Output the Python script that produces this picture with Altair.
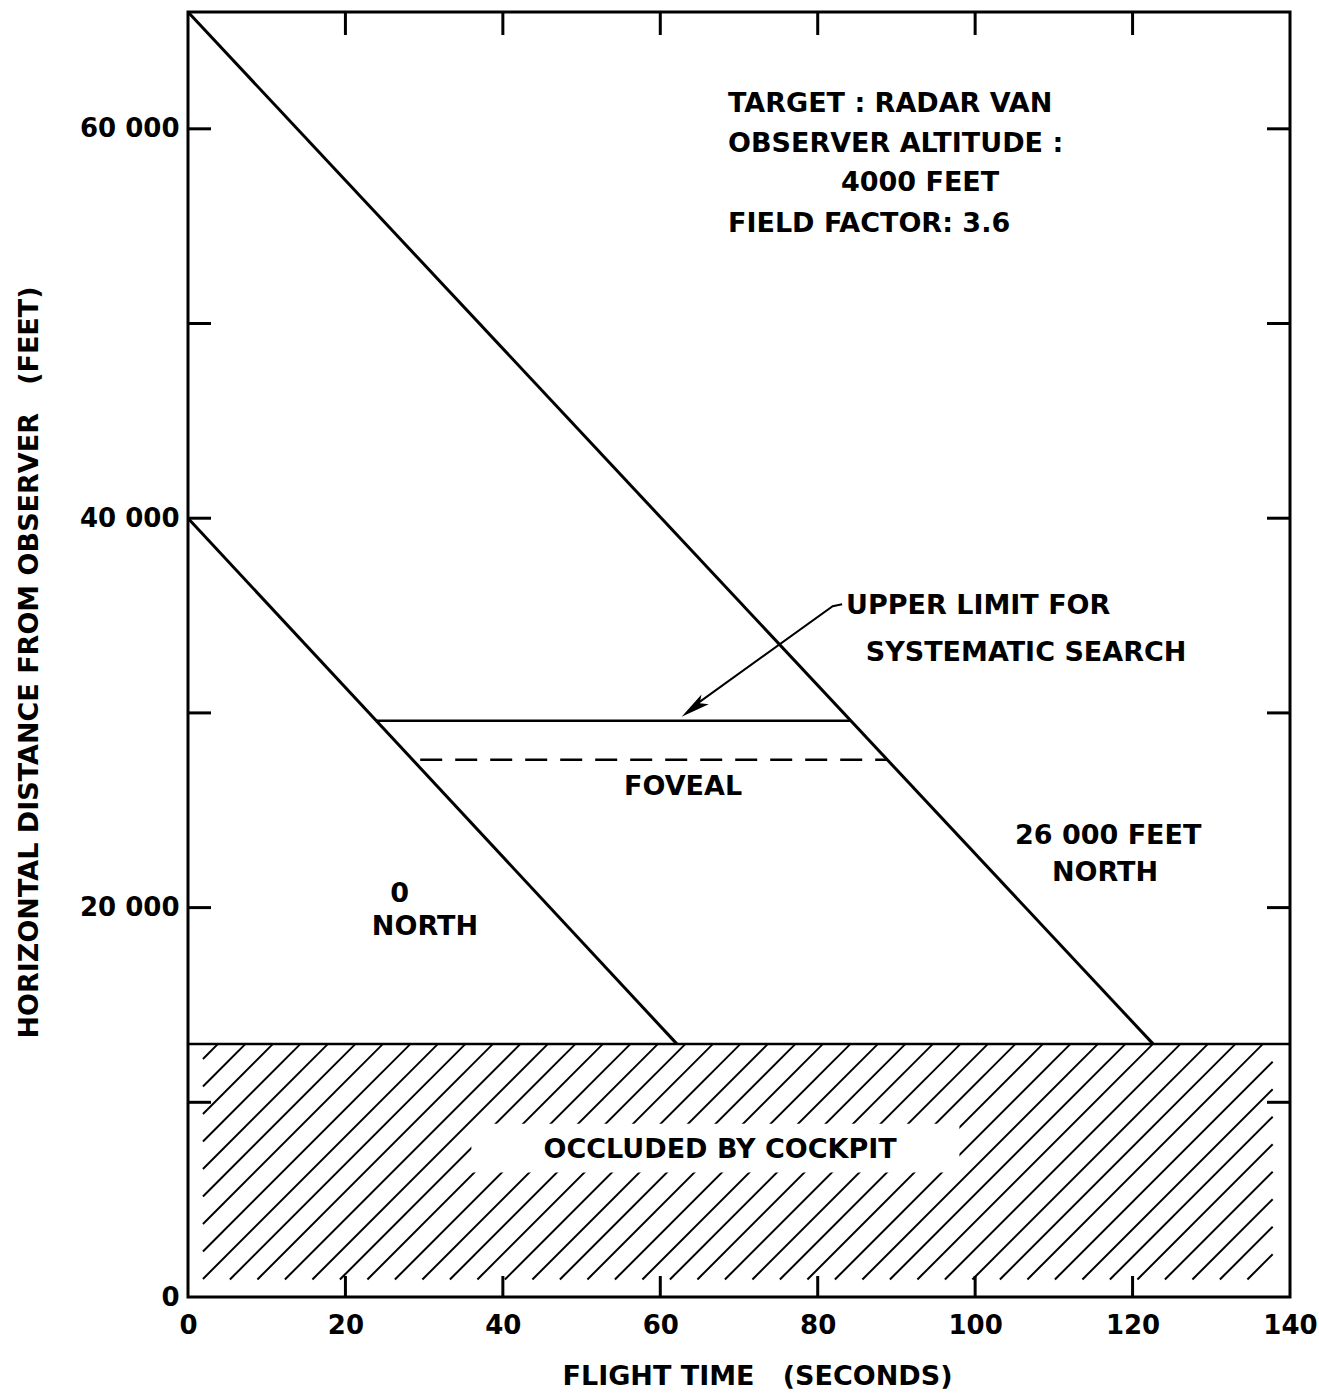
import altair as alt
import pandas as pd
import numpy as np

# ---------------- values ----------------
# sight-line curves: flight time (s) vs horizontal distance (ft)
time_26k_north = [0.0, 122.6]
dist_26k_north = [66000, 13000]
time_0_north = [0.0, 62.1]
dist_0_north = [40000, 13000]

upper_limit_time = [23.9, 84.2]
upper_limit_dist = [29600, 29600]
foveal_time = [29.5, 88.8]
foveal_dist = [27600, 27600]

occluded_below = 13000          # cockpit occlusion limit (ft)
hatch_time_range = [1.9, 137.8]
hatch_dist_range = [900, 13000]
occl_label_box_time = [36, 98]
occl_label_box_dist = [6400, 8900]

# arrow pointing to the "upper limit" line
arrow_time = [83.1, 81.9, 64.6]
arrow_dist = [35580, 35480, 30450]
arrow_head_time = [64.2]
arrow_head_dist = [30250]

# axes
x_label_values = [0, 20, 40, 60, 80, 100, 120, 140]
x_tick_values = [20, 40, 60, 80, 100, 120]
y_label_values = [0, 20000, 40000, 60000]
y_tick_values = [10000, 20000, 30000, 40000, 50000, 60000]
X_MAX = 140
Y_MAX = 66000

# annotations
left_texts = ["TARGET : RADAR VAN", "OBSERVER ALTITUDE :", "FIELD FACTOR: 3.6",
              "UPPER LIMIT FOR", "SYSTEMATIC SEARCH"]
left_x = [68.6, 68.6, 68.6, 83.6, 86.1]
left_y = [61300, 59200, 55100, 35500, 33100]
center_texts = ["4000 FEET", "FOVEAL", "26 000 FEET", "NORTH", "0", "NORTH",
                "OCCLUDED BY COCKPIT"]
center_x = [93.0, 62.9, 116.9, 116.5, 26.9, 30.1, 67.6]
center_y = [57200, 26200, 23700, 21800, 20700, 19000, 7550]

# ---------------- layout ----------------
W, H = 1102, 1285
FONT = "DejaVu Sans"
WEIGHT = "bold"
INK = "black"

x_scale = alt.Scale(domain=[0, X_MAX], nice=False, zero=False)
y_scale = alt.Scale(domain=[0, Y_MAX], nice=False, zero=False)

x_axis = alt.Axis(values=x_label_values, title="FLIGHT TIME \u00a0\u00a0(SECONDS)",
                  ticks=False, tickSize=0, domain=False, grid=False,
                  labelFont=FONT, labelFontSize=26, labelFontWeight=WEIGHT,
                  labelColor=INK, labelPadding=15,
                  labelFlush=False, labelOverlap=False,
                  titleFont=FONT, titleFontSize=27, titleFontWeight=WEIGHT,
                  titleColor=INK, titleX=569, titleY=87, titleAlign="center",
                  titleBaseline="alphabetic")
y_axis = alt.Axis(values=y_label_values,
                  labelExpr="replace(format(datum.value, ','), ',', ' ')",
                  title="HORIZONTAL DISTANCE FROM OBSERVER \u00a0\u00a0(FEET)",
                  ticks=False, tickSize=0, domain=False, grid=False,
                  labelFont=FONT, labelFontSize=26, labelFontWeight=WEIGHT,
                  labelColor=INK, labelPadding=9,
                  labelFlush=False, labelOverlap=False,
                  titleFont=FONT, titleFontSize=27, titleFontWeight=WEIGHT,
                  titleColor=INK, titleX=-151, titleY=650, titleAngle=270,
                  titleAlign="center", titleBaseline="alphabetic")


def X(field):
    return alt.X(field, type="quantitative", scale=x_scale, axis=x_axis)


def Y(field):
    return alt.Y(field, type="quantitative", scale=y_scale, axis=y_axis)


# ---------------- data frames ----------------
curves = pd.DataFrame({
    "t": time_26k_north + time_0_north,
    "d": dist_26k_north + dist_0_north,
    "series": ["26000 north"] * 2 + ["0 north"] * 2,
})
upper_df = pd.DataFrame({"t": upper_limit_time, "d": upper_limit_dist})
foveal_df = pd.DataFrame({"t": foveal_time, "d": foveal_dist})
boundary_df = pd.DataFrame({"t": [0], "t2": [X_MAX], "d": [occluded_below]})
arrow_df = pd.DataFrame({"t": arrow_time, "d": arrow_dist, "o": range(len(arrow_time))})
head_df = pd.DataFrame({"t": arrow_head_time, "d": arrow_head_dist})
box_df = pd.DataFrame({"t": [occl_label_box_time[0]], "t2": [occl_label_box_time[1]],
                       "d": [occl_label_box_dist[0]], "d2": [occl_label_box_dist[1]]})

# hatch pattern (decoration) at 45 degrees on screen inside the occluded band
ppx = W / X_MAX
ppy = H / Y_MAX
xa, xb = hatch_time_range[0] * ppx, hatch_time_range[1] * ppx
ya, yb = hatch_dist_range[0] * ppy, hatch_dist_range[1] * ppy
spacing = 27.5
phase = 85 - yb
segs = []
for k in range(-80, 80):
    c = phase + spacing * k
    t0 = max(ya, xa - c)
    t1 = min(yb, xb - c)
    if t1 > t0 + 0.5:
        segs.append({"t": (c + t0) / ppx, "d": t0 / ppy, "t2": (c + t1) / ppx, "d2": t1 / ppy})
hatch_df = pd.DataFrame(segs)

left_df = pd.DataFrame({"label": left_texts, "t": left_x, "d": left_y})
center_df = pd.DataFrame({"label": center_texts, "t": center_x, "d": center_y})

yt_df = pd.DataFrame({"d": y_tick_values})
xt_df = pd.DataFrame({"t": x_tick_values})

# ---------------- layers ----------------
hatch = alt.Chart(hatch_df).mark_rule(color=INK, strokeWidth=2).encode(
    x=X("t"), y=Y("d"), x2="t2", y2="d2")
box = alt.Chart(box_df).mark_rect(color="white").encode(
    x=X("t"), x2="t2", y=Y("d"), y2="d2")
boundary = alt.Chart(boundary_df).mark_rule(color=INK, strokeWidth=2.5).encode(
    x=X("t"), x2="t2", y=Y("d"))
curve_lines = alt.Chart(curves).mark_line(color=INK, strokeWidth=3).encode(
    x=X("t"), y=Y("d"), detail="series:N")
upper = alt.Chart(upper_df).mark_line(color=INK, strokeWidth=2.5).encode(
    x=X("t"), y=Y("d"))
foveal = alt.Chart(foveal_df).mark_line(color=INK, strokeWidth=2.5,
                                        strokeDash=[22, 13]).encode(
    x=X("t"), y=Y("d"))
arrow = alt.Chart(arrow_df).mark_line(color=INK, strokeWidth=2).encode(
    x=X("t"), y=Y("d"), order="o:Q")
head = alt.Chart(head_df).mark_point(
    shape="M0,-1L0.42,1L0,0.55L-0.42,1Z", filled=True, color=INK, opacity=1,
    size=850, angle=233.7).encode(x=X("t"), y=Y("d"))

left_text = alt.Chart(left_df).mark_text(
    align="left", baseline="middle", font=FONT, fontSize=27, fontWeight=WEIGHT,
    color=INK).encode(x=X("t"), y=Y("d"), text="label:N")
center_text = alt.Chart(center_df).mark_text(
    align="center", baseline="middle", font=FONT, fontSize=27, fontWeight=WEIGHT,
    color=INK).encode(x=X("t"), y=Y("d"), text="label:N")

tick_left = alt.Chart(yt_df).mark_rule(color=INK, strokeWidth=3).encode(
    y=Y("d"), x=alt.value(0), x2=alt.value(23))
tick_right = alt.Chart(yt_df).mark_rule(color=INK, strokeWidth=3).encode(
    y=Y("d"), x=alt.value(W - 23), x2=alt.value(W))
tick_bottom = alt.Chart(xt_df).mark_rule(color=INK, strokeWidth=3).encode(
    x=X("t"), y=alt.value(H - 21), y2=alt.value(H))
tick_top = alt.Chart(xt_df).mark_rule(color=INK, strokeWidth=3).encode(
    x=X("t"), y=alt.value(0), y2=alt.value(23))

chart = alt.layer(
    hatch, box, boundary, curve_lines, upper, foveal, arrow, head,
    left_text, center_text, tick_left, tick_right, tick_bottom, tick_top,
).properties(
    width=W, height=H,
    autosize=alt.AutoSizeParams(type="none"),
    padding={"left": 188, "top": 12, "right": 29, "bottom": 96},
    background="white",
).configure_view(
    stroke=INK, strokeWidth=3
)

chart.save("out.html", embed_options={"renderer": "svg", "actions": False})
